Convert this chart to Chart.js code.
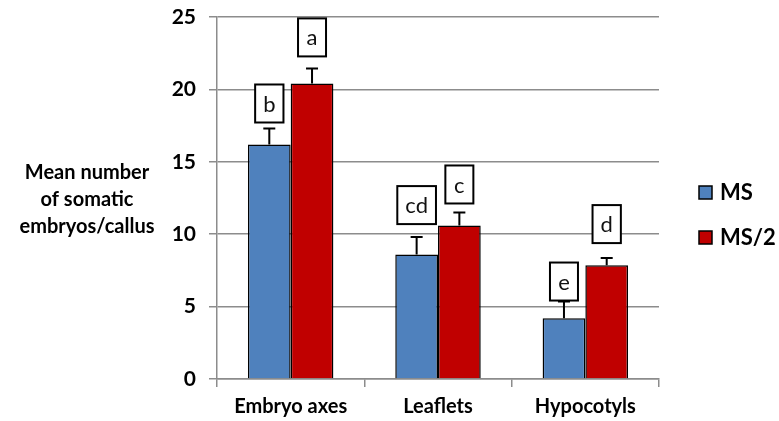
<!DOCTYPE html>
<html>
<head>
<meta charset="utf-8">
<script src="https://cdn.jsdelivr.net/npm/chart.js@4"></script>
<style>
html,body{margin:0;padding:0;background:#fff;}
#wrap{width:779px;height:421px;}
</style>
</head>
<body>
<div id="wrap"><canvas id="c" width="779" height="421"></canvas></div>
<script>
const categories = ["Embryo axes", "Leaflets", "Hypocotyls"];
const seriesNames = ["MS", "MS/2"];
const msValues = [16.2, 8.6, 4.2];
const ms2Values = [20.4, 10.6, 7.85];
const msErrors = [1.1, 1.2, 1.15];
const ms2Errors = [1.05, 0.9, 0.5];
const msLetters = ["b", "cd", "e"];
const ms2Letters = ["a", "c", "d"];
const yTicks = [0, 5, 10, 15, 20, 25];
const yTitleLines = ["Mean number", "of somatic", "embryos/callus"];

const FONT = "Lato, 'Open Sans', sans-serif";
// pixel gap between error-bar cap and letter box, per dataset / category (styling)
const BOX_GAPS = [[6, 13, 1], [12, 9, 15]];

const errorBarPlugin = {
  id: 'errorBars',
  afterDatasetsDraw(chart) {
    const ctx = chart.ctx;
    const y = chart.scales.y;
    chart.data.datasets.forEach((ds, di) => {
      const meta = chart.getDatasetMeta(di);
      meta.data.forEach((bar, i) => {
        const top = y.getPixelForValue(ds.data[i] + ds.errors[i]);
        ctx.save();
        ctx.strokeStyle = '#000';
        ctx.lineWidth = 2;
        ctx.beginPath();
        ctx.moveTo(bar.x, bar.y);
        ctx.lineTo(bar.x, top);
        ctx.moveTo(bar.x - 6, top);
        ctx.lineTo(bar.x + 6, top);
        ctx.stroke();
        // letter box
        const letter = ds.letters[i];
        ctx.font = "22px " + FONT;
        const tw = ctx.measureText(letter).width;
        const bw = Math.max(28, tw + 16);
        const bh = 38;
        const gap = BOX_GAPS[di][i];
        const by = top - gap - bh;
        ctx.fillStyle = '#fff';
        ctx.fillRect(bar.x - bw / 2, by, bw, bh);
        ctx.lineWidth = 2;
        ctx.strokeRect(bar.x - bw / 2, by, bw, bh);
        ctx.fillStyle = '#111';
        ctx.textAlign = 'center';
        ctx.textBaseline = 'middle';
        ctx.fillText(letter, bar.x, by + bh / 2 + 1);
        ctx.restore();
      });
    });
  }
};

const extrasPlugin = {
  id: 'extras',
  afterDraw(chart) {
    const ctx = chart.ctx;
    ctx.save();
    // y title (horizontal)
    ctx.font = "bold 20px " + FONT;
    ctx.fillStyle = '#000';
    ctx.textAlign = 'center';
    ctx.textBaseline = 'middle';
    const ly = [173, 200, 227];
    yTitleLines.forEach((t, k) => ctx.fillText(t, 87, ly[k]));
    // legend
    const items = chart.data.datasets;
    const legY = [192, 237];
    items.forEach((ds, k) => {
      ctx.fillStyle = ds.backgroundColor;
      ctx.fillRect(699, legY[k] - 6, 13, 13);
      ctx.lineWidth = 1.5;
      ctx.strokeStyle = '#000';
      ctx.strokeRect(699, legY[k] - 6, 13, 13);
      ctx.fillStyle = '#000';
      ctx.font = "bold 22px " + FONT;
      ctx.textAlign = 'left';
      ctx.fillText(ds.label, 720, legY[k] + 1);
    });
    ctx.restore();
  }
};

new Chart(document.getElementById('c'), {
  type: 'bar',
  data: {
    labels: categories,
    datasets: [
      { label: seriesNames[0], data: msValues, errors: msErrors, letters: msLetters,
        backgroundColor: '#4F81BD', borderColor: '#000', borderWidth: 1.5 },
      { label: seriesNames[1], data: ms2Values, errors: ms2Errors, letters: ms2Letters,
        backgroundColor: '#C00000', borderColor: '#000', borderWidth: 1.5 }
    ]
  },
  options: {
    responsive: false,
    animation: false,
    devicePixelRatio: 1,
    layout: { padding: { left: 0, right: 120, top: 17, bottom: 0 } },
    categoryPercentage: 0.58,
    barPercentage: 1.0,
    plugins: { legend: { display: false }, tooltip: { enabled: false } },
    scales: {
      x: {
        grid: { display: true, drawOnChartArea: false, drawTicks: true, tickLength: 8, color: '#8c8c8c', lineWidth: 1.5, offset: true },
        border: { color: '#8c8c8c', width: 1.5 },
        ticks: { font: { family: FONT, size: 20, weight: 'bold' }, color: '#000', padding: 8 },
        afterFit(s) { s.height = 42; s.paddingLeft = 0; s.paddingRight = 0; }
      },
      y: {
        min: 0, max: 25,
        afterBuildTicks(s) { s.ticks = yTicks.map(v => ({ value: v })); },
        grid: { color: '#8c8c8c', lineWidth: 1.5, tickLength: 8 },
        border: { color: '#8c8c8c', width: 1.5 },
        ticks: { font: { family: FONT, size: 21, weight: 'bold' }, color: '#000', padding: 13 },
        afterFit(s) { s.width = 217; s.paddingTop = 0; s.paddingBottom = 0; }
      }
    }
  },
  plugins: [errorBarPlugin, extrasPlugin]
});
</script>
</body>
</html>
